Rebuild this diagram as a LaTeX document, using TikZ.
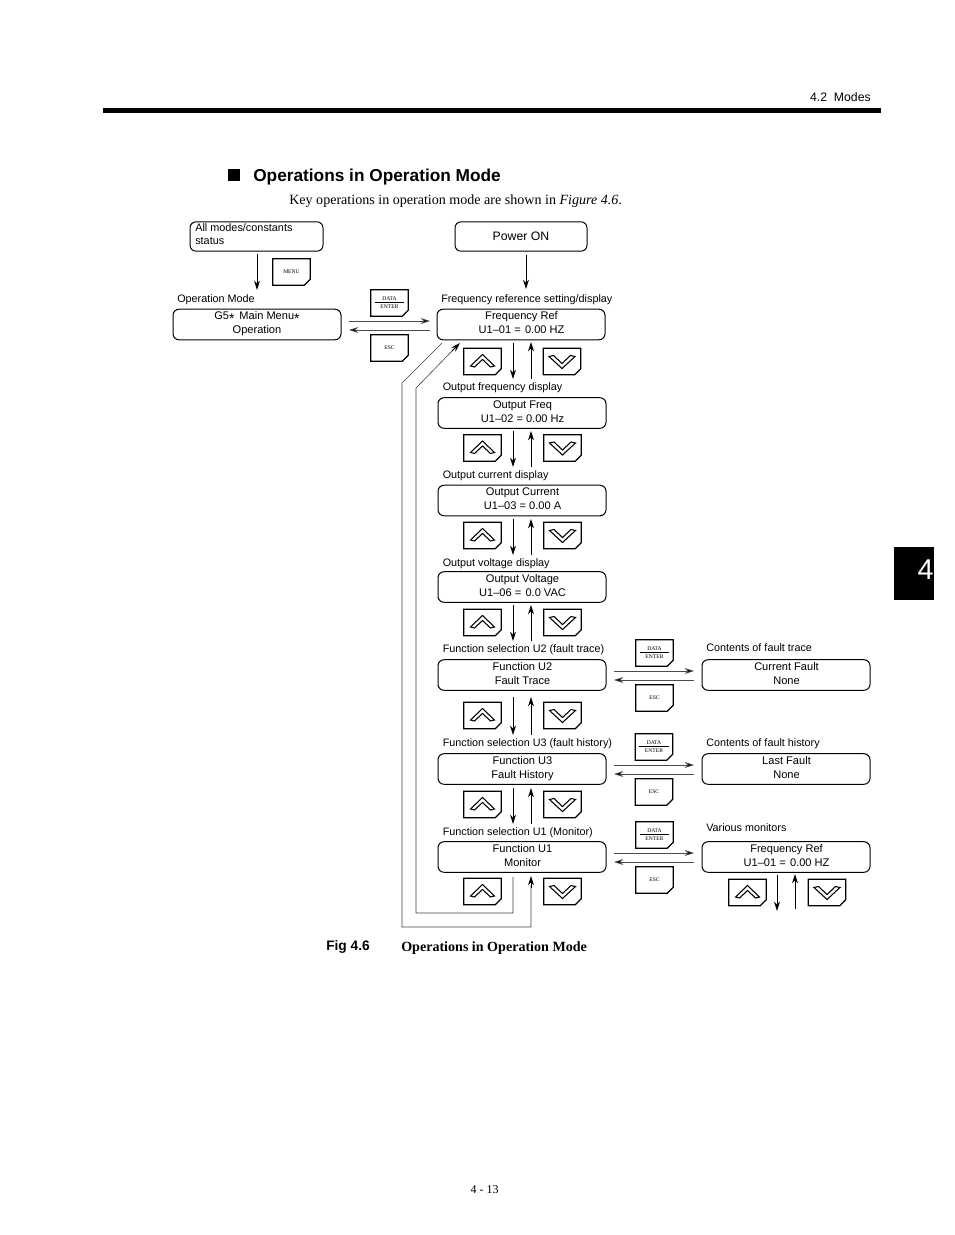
\documentclass[tikz,border=0pt]{standalone}
\usepackage{fontspec}
\setmainfont{Liberation Serif}
\setsansfont{Liberation Sans}
\usetikzlibrary{arrows.meta,calc}
\newcommand\keynode[4]{%
  \node[keyb] (#1) at (#2,#3) {#4};
  \draw[keyline] (#1.north west) -- (#1.north east) -- ($(#1.south east)+(0,-6)$) -- ($(#1.south east)+(-6,0)$) -- (#1.south west) -- cycle;}
\newcommand\keyup[3]{\keynode{#1}{#2}{#3}{}
  \draw[chev] ($(#1.center)+(-12,4.5)$) -- ($(#1.center)+(0,-7)$) -- ($(#1.center)+(12,4.5)$) -- ($(#1.center)+(8,5.5)$) -- ($(#1.center)+(0,-2)$) -- ($(#1.center)+(-8,5.5)$) -- cycle;}
\newcommand\keydown[3]{\keynode{#1}{#2}{#3}{}
  \draw[chev] ($(#1.center)+(-13,-5)$) -- ($(#1.center)+(0,7)$) -- ($(#1.center)+(13,-5)$) -- ($(#1.center)+(8.5,-6)$) -- ($(#1.center)+(0,2)$) -- ($(#1.center)+(-8.5,-6)$) -- cycle;}
\newcommand\dataenter{\vbox{\hbox to 22pt{\hss DATA\hss}\kern1pt\hrule height 0.8pt\kern1.4pt\hbox to 22pt{\hss ENTER\hss}}}
\newcommand\ls{\rule[-2.4pt]{0pt}{2.4pt}}
\newcommand\st{{\fontsize{10.5pt}{10pt}\selectfont\raisebox{-0.42ex}{*}}}
\tikzset{
  dbox/.style={draw=black,line width=0.75pt,rounded corners=4.5pt,minimum width=126pt,minimum height=22.9pt,inner sep=0pt,align=center,font=\sffamily\fontsize{8.3pt}{10.5pt}\selectfont},
  lab/.style={anchor=west,inner sep=0pt,font=\sffamily\fontsize{8.1pt}{10pt}\selectfont},
  keyb/.style={minimum width=27.75pt,minimum height=19.5pt,inner sep=0pt,align=center,font=\rmfamily\fontsize{4.2pt}{5pt}\selectfont},
  keyline/.style={line width=0.9pt,line join=miter},
  chev/.style={line width=0.8pt,line join=miter},
  arr/.style={line width=0.6pt,-{Stealth[length=7pt,width=4.4pt]}},
  garr/.style={line width=0.5pt,draw=black!70,-{Stealth[length=7pt,width=4.4pt,fill=black]}},
  fb/.style={line width=0.45pt,draw=black!75},
  free/.style={inner sep=0pt},
}
\begin{document}
\begin{tikzpicture}[x=0.75pt,y=-0.75pt]
\useasboundingbox (0,0) rectangle (954,1235);
% header
\node[free,anchor=east,font=\sffamily\fontsize{9.2pt}{10pt}\selectfont] (hdr) at (871,97) {4.2\hspace{0.55em}Modes};
\fill (103,108) rectangle (881,113);
\fill (894,547) rectangle (934,600);
\node[free,text=white,font=\sffamily\fontsize{21.5pt}{23pt}\selectfont] (tab) at (925.5,570) {4};
\fill (228,169) rectangle (240,181);
\node[free,anchor=west,font=\sffamily\bfseries\fontsize{12.95pt}{14pt}\selectfont] (title) at (253,177.5) {Operations in Operation Mode};
\node[free,anchor=west,font=\rmfamily\fontsize{10.55pt}{12pt}\selectfont] (intro) at (289,201.5) {Key operations in operation mode are shown in \textit{Figure 4.6}.};
% top boxes
\node[dbox,minimum width=99.75pt,minimum height=22pt] (all) at (256.5,236.5) {};
\node[lab,align=left,font=\sffamily\fontsize{8.15pt}{9.8pt}\selectfont] (alltxt) at (195,234) {All modes/constants\\status};
\node[dbox,minimum width=99pt,minimum height=22pt,font=\sffamily\fontsize{9.2pt}{11pt}\selectfont] (pow) at (521,236.5) {Power ON};
% labels
\node[lab] (l0) at (177,299.5) {Operation Mode};
\node[lab] (l1) at (441,299.5) {Frequency reference setting/display};
\node[lab] (l2) at (442.5,387.5) {Output frequency display};
\node[lab] (l3) at (442.5,475.5) {Output current display};
\node[lab] (l4) at (442.5,563.5) {Output voltage display};
\node[lab] (l5) at (442.5,649.5) {Function selection U2 (fault trace)};
\node[lab] (l6) at (442.5,743.5) {Function selection U3 (fault history)};
\node[lab] (l7) at (442.5,832.5) {Function selection U1 (Monitor)};
\node[lab] (l8) at (706,648) {Contents of fault trace};
\node[lab] (l9) at (706,744) {Contents of fault history};
\node[lab] (l10) at (706,828) {Various monitors};
% display boxes
\node[dbox] (g5) at (257,324.5) {G5\st\, Main Menu\st\\Operation\ls};
\node[dbox] (fr) at (521,324.5) {\hspace*{0.8pt}Frequency Ref\\\hspace*{0.8pt}U1–01 =\hspace{0.9pt} 0.00 HZ\ls};
\node[dbox] (of) at (522,413) {\hspace*{0.8pt}Output Freq\\\hspace*{0.8pt}U1–02 = 0.00 Hz\ls};
\node[dbox] (oc) at (522,500.5) {\hspace*{0.8pt}Output Current\\\hspace*{0.8pt}U1–03 = 0.00 A\ls};
\node[dbox] (ov) at (522,587) {\hspace*{0.8pt}Output Voltage\\\hspace*{0.8pt}U1–06 =\hspace{0.9pt} 0.0 VAC\ls};
\node[dbox] (u2) at (522,675) {\hspace*{0.8pt}Function U2\\\hspace*{0.8pt}Fault Trace\ls};
\node[dbox] (u3) at (522,769) {\hspace*{0.8pt}Function U3\\\hspace*{0.8pt}Fault History\ls};
\node[dbox] (u1) at (522,857) {\hspace*{0.8pt}Function U1\\\hspace*{0.8pt}Monitor\ls};
\node[dbox] (cf) at (786,675) {\hspace*{0.8pt}Current Fault\\\hspace*{0.8pt}None\ls};
\node[dbox] (lf) at (786,769) {\hspace*{0.8pt}Last Fault\\\hspace*{0.8pt}None\ls};
\node[dbox] (mf) at (786,857) {\hspace*{0.8pt}Frequency Ref\\\hspace*{0.8pt}U1–01 =\hspace{0.9pt} 0.00 HZ\ls};
% keys
\keynode{kmenu}{291.5}{272}{MENU}
\coordinate (ms) at (257,254);
\coordinate (me) at (257,290);
\draw[arr] (ms) -- (me);
\keynode{kd0}{389.5}{303}{\dataenter}
\keynode{ke0}{389.5}{348}{ESC}
\keynode{kd1}{654.5}{653}{\dataenter}
\keynode{ke1}{654.5}{698}{ESC}
\keynode{kd2}{654}{747}{\dataenter}
\keynode{ke2}{654}{792}{ESC}
\keynode{kd3}{654.5}{835}{\dataenter}
\keynode{ke3}{654.5}{880}{ESC}
\keyup{ua}{482.5}{361.5}\keydown{da}{562}{361.5}
\keyup{ub}{482.5}{448}\keydown{db}{562.5}{448}
\keyup{uc}{482.5}{535.5}\keydown{dc}{562.5}{535.5}
\keyup{ud}{482.5}{622.5}\keydown{dd}{562.5}{622.5}
\keyup{ue}{482.5}{715.5}\keydown{de}{562.5}{715.5}
\keyup{uf}{482.5}{804.5}\keydown{df}{562.5}{804.5}
\keyup{ug}{482.5}{891.5}\keydown{dg}{562.5}{891.5}
\keyup{uh}{747.5}{892.5}\keydown{dh}{827}{892.5}
% power-on arrow
\coordinate (pe) at (526,289);
\draw[arr] (pow.south -| pe) ++(0,3) -- (pe);
% horizontal pairs
\draw[garr] (349,321) -- (430,321);
\draw[garr] (430,330) -- (349,330);
\draw[garr] (614,671) -- (694,671);
\draw[garr] (694,680) -- (614,680);
\draw[garr] (614,765) -- (694,765);
\draw[garr] (694,774) -- (614,774);
\draw[garr] (614,853) -- (694,853);
\draw[garr] (694,862) -- (614,862);
% vertical pairs
\draw[arr] (513,343) -- (513,379);
\draw[arr] (531,379) -- (531,342);
\draw[arr] (513,431) -- (513,467);
\draw[arr] (531,467) -- (531,431);
\draw[arr] (513,519) -- (513,555);
\draw[arr] (531,555) -- (531,519);
\draw[arr] (513,605) -- (513,641);
\draw[arr] (531,641) -- (531,605);
\draw[arr] (513,697) -- (513,735);
\draw[arr] (531,735) -- (531,697);
\draw[arr] (513,788) -- (513,824);
\draw[arr] (531,824) -- (531,788);
\draw[arr] (777,875) -- (777,911);
\draw[arr] (795,909) -- (795,874);
% feedback
\draw[fb] (442,343) -- (402,383) -- (402,927) -- (531,927) -- (531,885);
\draw[arr] (531,888) -- (531,876);
\draw[fb] (513,877) -- (513,913) -- (416,913) -- (416,388) -- (455,348);
\draw[arr] (452,351) -- (460,343);
% caption
\node[free,anchor=west,font=\sffamily\bfseries\fontsize{10.3pt}{11pt}\selectfont] (figa) at (326,946.5) {Fig 4.6};
\node[free,anchor=west,font=\rmfamily\bfseries\fontsize{10.55pt}{12pt}\selectfont] (figb) at (401,948.5) {Operations in Operation Mode};
\node[free,font=\rmfamily\fontsize{9pt}{11pt}\selectfont] (pg) at (484.5,1190) {4 - 13};
\end{tikzpicture}
\end{document}
